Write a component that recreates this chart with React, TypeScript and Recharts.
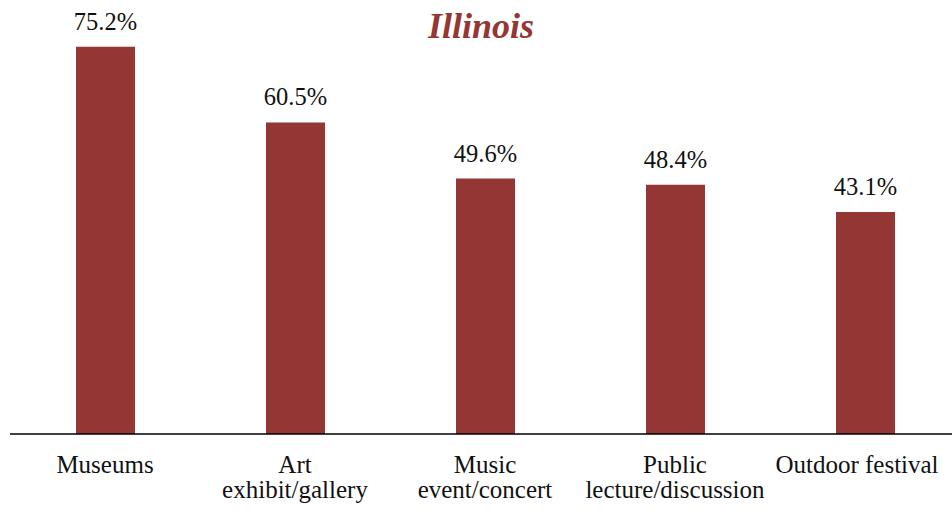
import React from 'react';
import { BarChart, Bar, XAxis, YAxis, LabelList } from 'recharts';

const categories = ['Museums', 'Art\nexhibit/gallery', 'Music\nevent/concert', 'Public\nlecture/discussion', 'Outdoor festival'];
const shares = [75.2, 60.5, 49.6, 48.4, 43.1];

const data = categories.map((name, i) => ({ name, value: shares[i] }));

const BAR_COLOR = '#943634';
const FONT = "'Liberation Serif', 'Times New Roman', serif";
const tickStyle = { fontFamily: FONT, fontSize: 25 };
const labelStyle = { fontFamily: FONT, fontSize: 24.5 };

const CategoryTick = (props: any) => {
  const { x, y, payload } = props;
  const lines: string[] = String(payload.value).split('\n');
  // the last label sits a little left so it stays inside the frame
  const dx = payload.value === 'Outdoor festival' ? -8 : 0;
  return (
    <text x={x + dx} y={y} textAnchor="middle" style={tickStyle} fill="#111">
      {lines.map((line, i) => (
        <tspan key={i} x={x + dx} dy={i === 0 ? 31 : 25}>
          {line}
        </tspan>
      ))}
    </text>
  );
};

const ValueLabel = (props: any) => {
  const { x, y, width, value } = props;
  return (
    <text x={x + width / 2} y={y - 17} textAnchor="middle" style={labelStyle} fill="#111">
      {`${Number(value).toFixed(1)}%`}
    </text>
  );
};

export default function App() {
  return (
    <div
      style={{
        position: 'absolute',
        top: 0,
        left: 0,
        width: 952,
        height: 510,
        overflow: 'hidden',
        background: '#fff',
      }}
    >
      <BarChart
        width={970}
        height={510}
        data={data}
        margin={{ top: 22, right: 10, bottom: 0, left: 10 }}
      >
        <XAxis
          dataKey="name"
          height={76}
          tickLine={false}
          axisLine={{ stroke: '#000', strokeWidth: 1.5 }}
          tick={<CategoryTick />}
          interval={0}
        />
        <YAxis hide domain={[0, 80]} />
        <Bar dataKey="value" fill={BAR_COLOR} barSize={59} isAnimationActive={false}>
          <LabelList dataKey="value" content={<ValueLabel />} />
        </Bar>
      </BarChart>
      <div
        style={{
          position: 'absolute',
          left: 0,
          width: 962,
          top: 6,
          textAlign: 'center',
          fontFamily: FONT,
          fontSize: 36,
          fontWeight: 'bold',
          fontStyle: 'italic',
          color: BAR_COLOR,
          lineHeight: '40px',
        }}
      >
        Illinois
      </div>
    </div>
  );
}
